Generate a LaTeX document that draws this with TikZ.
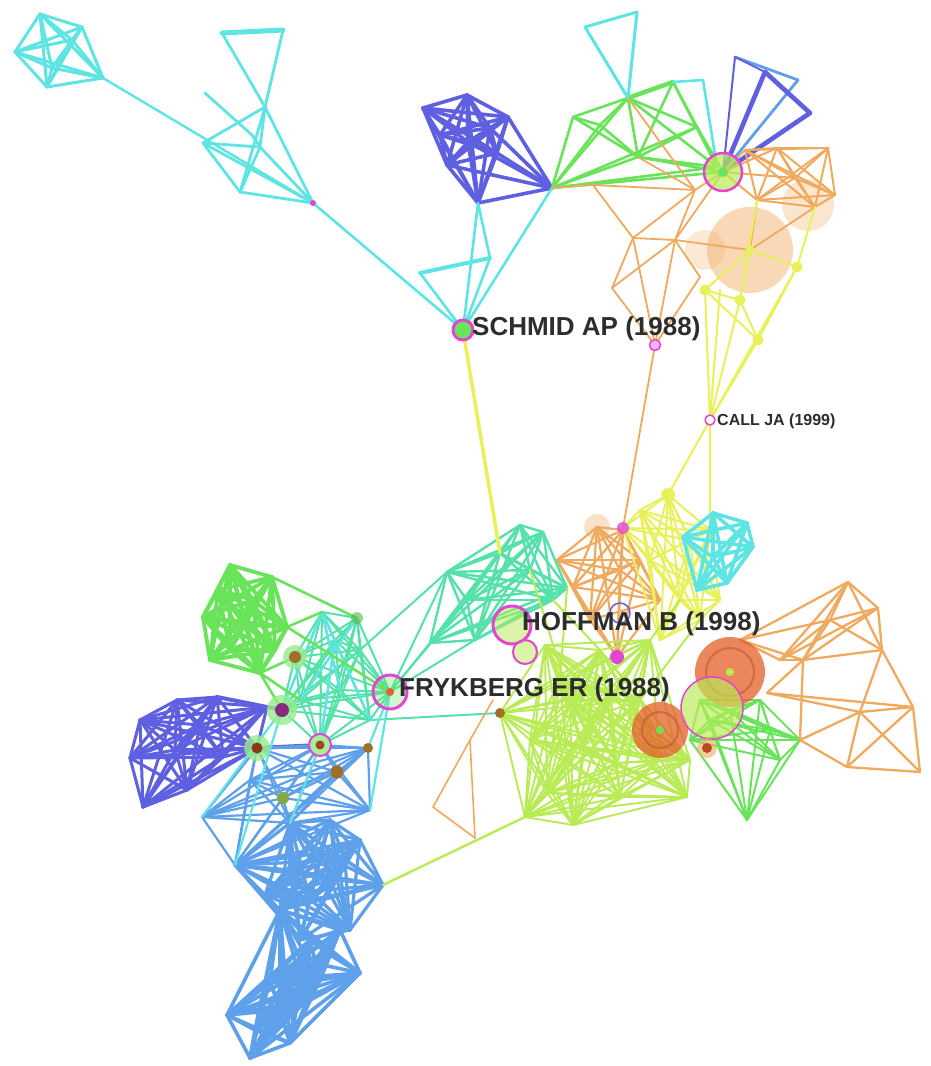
\documentclass[tikz,border=0pt]{standalone}
\usepackage{fontspec}
\setmainfont{Liberation Sans}
\definecolor{cy}{RGB}{95,228,228}
\definecolor{bv}{RGB}{95,95,225}
\definecolor{gr}{RGB}{105,228,90}
\definecolor{tl}{RGB}{85,225,170}
\definecolor{lb}{RGB}{95,160,235}
\definecolor{og}{RGB}{240,170,95}
\definecolor{yl}{RGB}{232,240,90}
\definecolor{yg}{RGB}{185,235,85}
\definecolor{mg}{RGB}{225,70,210}
\definecolor{rd}{RGB}{230,95,40}
\definecolor{br}{RGB}{160,110,40}
\definecolor{labc}{RGB}{45,45,45}
\newcommand\pts[2]{\foreach \xx/\yy [count=\k] in {#2}{\coordinate (#1\k) at (\xx,\yy);}}
\newcommand\full[3]{\foreach \ii in {1,...,#2}{\foreach \jj in {1,...,#2}{\ifnum\ii<\jj\relax\draw[#3] (#1\ii)--(#1\jj);\fi}}}
\newcommand\lnk[3]{\foreach \ii/\jj in {#3}{\draw[#2] (#1\ii)--(#1\jj);}}
\tikzset{
  blob/.style={circle,inner sep=0pt},
  ring/.style={circle,inner sep=0pt,draw=mg},
  lab/.style={inner sep=0pt,text=labc,font=\fontsize{26}{28}\selectfont\bfseries},
}
\begin{document}
\begin{tikzpicture}[x=1pt,y=-1pt,line cap=round,line join=round]
\fill[white] (0,0) rectangle (930,1066);
\useasboundingbox (0,0) rectangle (930,1066);

% translucent background blobs
\coordinate (bg) at (750,250);
\node[blob,fill=og,fill opacity=.45,minimum size=86pt] (bigc) at (bg) {};
\node[blob,fill=og,fill opacity=.3,minimum size=52pt] (bigc2) at (808,205) {};
\node[blob,fill=og,fill opacity=.25,minimum size=40pt] (bigc3) at (705,250) {};
\node[blob,fill=og,fill opacity=.35,minimum size=26pt] (m2h) at (597,527) {};

% ---------- top left cyan ----------
\pts{A}{40/14,82/27,103/78,47/87,15/52,52/68,72/40}
\full{A}{7}{cy,line width=3pt}
\pts{B}{222/33,283/30,265/107,205/93,252/135,203/143,240/192,313/203,260/147}
\lnk{B}{cy,line width=2.8pt}{1/3,2/3,3/6,3/7,3/8,3/9,4/5,6/7,6/8,6/9,7/9,7/8,9/8,5/9}
\draw[cy,line width=5pt] (B1)--(B2);
\draw[cy,line width=2.4pt] (A3)--(B8);
\coordinate (s) at (463,330);
\draw[cy,line width=2.6pt] (B8)--(s);

% ---------- blue top cluster ----------
\pts{D}{423/108,467/95,508/117,497/153,447/165,478/203,468/142,490/128,440/135}
\full{D}{9}{bv,line width=3.6pt}
\coordinate (hub) at (552,188);
\foreach \k in {3,4,5,6,7,8} \draw[bv,line width=3.6pt] (D\k)--(hub);
\pts{C}{420/273,490/258}
\draw[cy,line width=2.6pt] (s)--(C1) (s)--(C2) (s)--(D6) (s)--(hub) (D6)--(C2);
\draw[cy,line width=4pt] (C1)--(C2);

% ---------- green top ----------
\pts{E}{552/188,573/117,628/98,673/82,638/157,697/127,717/167,600/125,703/80}
\lnk{E}{gr,line width=2.6pt}{1/2,1/3,1/5,1/7,1/8,2/3,2/5,2/8,3/5,3/6,3/7,3/8,4/5,4/6,4/7,5/7,6/7,5/8,1/6,5/6}
\draw[gr,line width=4.5pt] (E3)--(E4);
\lnk{E}{cy,line width=2.6pt}{4/9,9/7}
\pts{T}{585/27,637/12,628/98}
\lnk{T}{cy,line width=3pt}{1/2,2/3,1/3}

% ---------- top right ----------
\coordinate (p) at (723,172);
\draw[gr,line width=2.6pt] (E1)--(p) (E5)--(p) (E6)--(p);
\pts{F}{735/57,798/80,765/72,810/113}
\draw[lb,line width=2.8pt] (F1)--(F2) (F2)--(p);
\draw[bv,line width=2pt] (F1)--(p) (F1)--(F3);
\draw[bv,line width=4.6pt] (F3)--(p) (F3)--(F4) (F4)--(p);
\pts{G}{777/148,828/148,815/207,757/200,795/178,835/195,745/150}
\full{G}{7}{og,line width=2pt}
\draw[og,line width=2pt] (p)--(G1) (p)--(G4) (p)--(G7) (p)--(G5);
\pts{O}{593/185,633/238,675/240,612/288,655/345,695/190,720/290,700/277}
\lnk{O}{og,line width=1.8pt}{1/2,2/3,2/4,2/5,3/5,4/5,3/6,2/6,3/8,4/3,6/1,8/5}
\draw[og,line width=1.8pt] (O6)--(p) (O6)--(E5) (O3)--(bg) (E3)--(O6) (O1)--(E1) (O3)--(p) (G4)--(bg) (G3)--(bg);
\coordinate (cj) at (710,420);
\pts{Y}{705/290,740/300,758/340,797/267}
\lnk{Y}{yl,line width=2pt}{4/3,2/3,1/3,1/2}
\foreach \k in {1,2,3,4} \draw[yl,line width=2pt] (Y\k)--(cj);
\draw[yl,line width=2pt] (Y1)--(bg) (Y4)--(bg) (Y2)--(bg) (G3)--(Y4) (G4)--(Y2) (O7)--(cj);

% ---------- center clusters ----------
\pts{Yc}{623/528,668/495,640/510,690/540,650/560,680/600,700/620,710/530,660/640,720/600}
\draw[og,line width=1.8pt] (O5)--(Yc1);
\draw[yl,line width=2pt] (cj)--(Yc2) (cj)--(Yc8);
\pts{M}{557/560,597/527,623/530,573/587,620/570,617/657,640/560,660/600,590/620}
\full{M}{9}{og,line width=2.2pt}
\full{Yc}{10}{yl,line width=2pt}
\pts{W}{500/713,525/817,573/825,547/793,620/797,687/797,583/747,617/763,560/680,600/650,640/700,660/760,530/740,570/700,650/640,545/645,610/690,690/760}
\full{W}{18}{yg,line width=1.9pt}
\pts{H}{520/525,543/532,447/572,500/553,567/588,467/600,430/643,553/600,475/640,530/570}
\full{H}{10}{tl,line width=2.4pt}
\draw[yl,line width=3.5pt] (s)--(H4);
\pts{Cm}{683/537,713/513,747/523,753/547,727/583,697/590,713/557}
\full{Cm}{7}{cy,line width=3.6pt}
\pts{GF}{747/820,690/740,710/720,730/710,760/700,800/740,780/760,700/700,770/730}
\full{GF}{9}{gr,line width=2pt}
\pts{R}{848/582,878/608,882/650,803/660,830/620,860/712,913/707,847/767,920/772,767/693,800/740,780/660,740/640}
\lnk{R}{og,line width=2.3pt}{1/2,1/3,1/4,1/5,1/12,2/3,2/5,2/4,3/4,3/5,3/7,4/5,5/12,12/13,4/13,4/12,3/6,6/7,6/8,6/9,7/8,7/9,8/9,6/11,8/11,10/7,10/6,13/1,13/5,10/4,11/4,2/12}
\draw[yg,line width=2pt] (H8)--(W10) (H5)--(W9) (H10)--(W14) (Yc6)--(W15) (Yc7)--(W11);

% ---------- left clusters ----------
\pts{K}{322/612,357/618,295/657,282/710,320/745,390/692,360/650,340/690,300/700,370/720,335/640}
\full{K}{11}{tl,line width=2pt}
\lnk{K}{cy,line width=2.4pt}{1/4,1/8,11/5,2/9,1/10}
\draw[tl,line width=2pt] (K6)--(H3) (K6)--(H6) (K6)--(H7) (K6)--(H9) (K7)--(H3) (K10)--(W1);
\pts{N}{230/565,272/577,287/627,203/617,210/660,260/673,230/650,253/600,245/625,218/590,275/650}
\full{N}{11}{gr,line width=3.8pt}
\draw[gr,line width=2.6pt] (N3)--(K1) (N6)--(K3) (N3)--(K6) (N6)--(K4) (N6)--(K9) (N2)--(K2);
\pts{V}{130/758,140/720,177/700,217/697,267/707,143/807,187/790,223/757,257/748,175/750,200/725}
\full{V}{11}{bv,line width=3pt}
\draw[bv,line width=4pt] (V4)--(K4) (V5)--(K4) (V9)--(K5);
\pts{Lu}{257/748,320/745,337/772,368/748,283/798,202/817,290/823,370/810,250/780,235/865}
\full{Lu}{10}{lb,line width=2.2pt}
\pts{Lm}{235/865,290/823,320/853,337/880,383/885,280/910,310/900,360/840,350/930,300/940,265/895,330/820,345/860,290/870}
\full{Lm}{14}{lb,line width=3.2pt}
\pts{Ll}{280/910,360/973,340/930,307/1000,290/1043,250/1058,227/1015,270/980,300/960,255/1030,320/980,310/940,280/1010,330/955}
\full{Ll}{14}{lb,line width=3.6pt}
\draw[cy,line width=2.2pt] (K4)--(Lu6) (K5)--(Lu7) (K6)--(Lu4) (K6)--(Lu8) (K4)--(Lu10);
\draw[yg,line width=2.4pt] (Lm5)--(W2);
\pts{Q}{433/807,470/740,475/838,493/700}
\lnk{Q}{og,line width=1.6pt}{1/2,1/3,2/3,2/4}

% ---------- circles ----------
\foreach \k in {1,2,3,4} \node[blob,fill=yl,minimum size=11pt] (yd\k) at (Y\k) {};
\node[blob,fill=yl,minimum size=9pt] (ydc) at (bg) {};
\node[ring,fill=yg,fill opacity=.7,line width=2.5pt,minimum size=38pt] (pr) at (p) {};
\node[blob,fill=gr,minimum size=10pt] (prd) at (p) {};
\node[blob,fill=mg,minimum size=6pt] (b8d) at (B8) {};
\node[ring,fill=gr,line width=3pt,minimum size=20pt] (schmid) at (s) {};
\node[ring,fill=mg!40,line width=1.5pt,minimum size=11pt] (o5d) at (O5) {};
\node[ring,fill=white,line width=1.5pt,minimum size=10pt] (cjd) at (cj) {};
\node[blob,fill=mg,fill opacity=.8,minimum size=12pt] (qd) at (Yc1) {};
\node[blob,fill=yl,minimum size=14pt] (ycd) at (Yc2) {};
\node[ring,draw=bv,line width=1.5pt,minimum size=20pt] (m9r) at (620,613) {};
\node[blob,fill=mg,minimum size=14pt] (m6d) at (M6) {};
\node[ring,fill=yg,fill opacity=.5,line width=3pt,minimum size=38pt] (hoff) at (512,625) {};
\node[ring,fill=yg,fill opacity=.5,line width=2pt,minimum size=24pt] (hoff2) at (525,652) {};
\node[ring,fill=gr,fill opacity=.3,line width=3pt,minimum size=34pt] (fry) at (K6) {};
\node[blob,fill=rd,minimum size=8pt] (fryd) at (K6) {};
% big red circles
\node[blob,fill=rd,fill opacity=.75,minimum size=70pt] (r1) at (730,672) {};
\node[circle,draw=rd!70!black,draw opacity=.4,line width=2pt,minimum size=48pt] (r1a) at (730,672) {};
\node[blob,fill=yg,minimum size=8pt] (r1d) at (730,672) {};
\node[blob,fill=rd,fill opacity=.75,minimum size=56pt] (r2) at (660,730) {};
\node[circle,draw=rd!70!black,draw opacity=.4,line width=2pt,minimum size=36pt] (r2a) at (660,730) {};
\node[blob,fill=gr,minimum size=8pt] (r2d) at (660,730) {};
\node[ring,fill=yg,fill opacity=.65,line width=1.5pt,minimum size=62pt] (pr2) at (712,708) {};
\node[blob,fill=og,fill opacity=.6,minimum size=20pt] (r3h) at (707,748) {};
\node[blob,fill=rd!80!black,minimum size=10pt] (r3) at (707,748) {};
% left dots
\node[blob,fill=gr!70,fill opacity=.8,minimum size=24pt] (k3h) at (K3) {};
\node[blob,fill=br,minimum size=12pt] (k3d) at (K3) {};
\node[blob,fill=gr!70,fill opacity=.8,minimum size=30pt] (k4h) at (K4) {};
\node[blob,fill=mg!60!black,minimum size=14pt] (k4d) at (K4) {};
\node[blob,fill=gr!70,fill opacity=.8,minimum size=26pt] (v9h) at (V9) {};
\node[blob,fill=rd!60!black,minimum size=11pt] (v9d) at (V9) {};
\node[ring,fill=gr!60,line width=2pt,minimum size=22pt] (k5r) at (K5) {};
\node[blob,fill=rd!70!black,minimum size=9pt] (k5d) at (K5) {};
\node[blob,fill=br,minimum size=13pt] (lu3d) at (Lu3) {};
\node[blob,fill=br,minimum size=10pt] (lu4d) at (Lu4) {};
\node[blob,fill=gr!50!br,minimum size=12pt] (lu5d) at (Lu5) {};
\node[blob,fill=gr!80!black,fill opacity=.6,minimum size=12pt] (k2d) at (K2) {};
\node[blob,fill=br,minimum size=10pt] (w1d) at (W1) {};

% ---------- labels ----------
\node[lab,anchor=west] (schmidlab) at (472,329) {SCHMID AP (1988)};
\node[lab,anchor=west] (hofflab) at (522,624) {HOFFMAN B (1998)};
\node[lab,anchor=west] (frylab) at (399,690) {FRYKBERG ER (1988)};
\node[lab,anchor=west,font=\fontsize{16}{18}\selectfont\bfseries] (cjlab) at (717,421) {CALL JA (1999)};
\end{tikzpicture}
\end{document}
